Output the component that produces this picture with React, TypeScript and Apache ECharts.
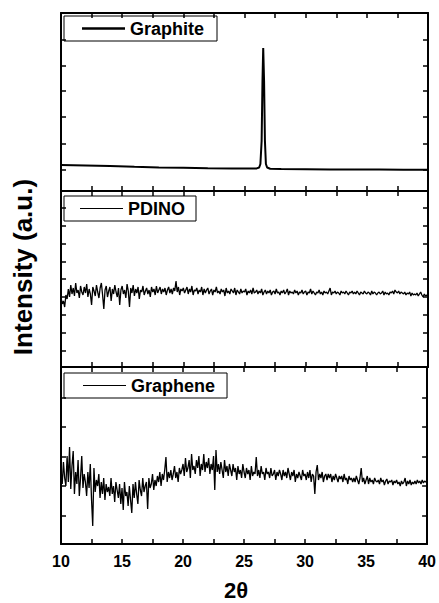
import React, { useEffect, useRef } from 'react';
import * as echarts from 'echarts';

const X_MIN = 10;
const X_MAX = 40;
const X_STEP = 0.1;

const seriesNames = ['Graphite', 'PDINO', 'Graphene'];
const xTickLabels = [10, 15, 20, 25, 30, 35, 40];

// Graphite: [2θ, intensity]
const graphiteX = [10, 12, 14, 16, 18, 20, 22, 24, 25.5, 26.0, 26.2, 26.3, 26.4, 26.47, 26.53, 26.6, 26.67, 26.75, 26.85, 27.1, 28, 30, 32, 34, 36, 38, 40];
const graphiteY = [26, 25.5, 25, 24.2, 23.6, 23.2, 22.8, 22.5, 22.4, 22.6, 23.5, 27, 50, 110, 143, 110, 50, 27, 23.5, 22.3, 22, 21.8, 21.6, 21.5, 21.4, 21.3, 21.2];

// PDINO, sampled every 0.1° from 10 to 40 (one row per degree)
const pdino = [
  70, 63, 66, 60, 72, 68, 78, 70, 82, 73,
  79, 71, 84, 74, 77, 69, 81, 75, 72, 80,
  74, 83, 70, 78, 73, 62, 80, 76, 71, 82,
  75, 69, 79, 84, 72, 58, 77, 81, 70, 76,
  80, 66, 78, 73, 82, 75, 70, 79, 62, 77,
  81, 73, 77, 69, 83, 76, 60, 79, 74, 82,
  71, 78, 74, 80, 68, 77, 75, 81, 72, 76,
  79, 73, 77, 70, 80, 75, 78, 72, 81, 74,
  77, 80, 73, 78, 75, 79, 72, 77, 80, 74,
  78, 73, 79, 76, 86, 75, 80, 72, 78, 76,
  79, 74, 77, 80, 73, 78, 75, 81, 72, 77,
  76, 79, 73, 77, 75, 80, 72, 78, 74, 77,
  79, 73, 76, 78, 72, 77, 75, 80, 74, 76,
  73, 78, 75, 77, 71, 79, 74, 76, 73, 78,
  76, 74, 79, 72, 77, 75, 73, 78, 74, 76,
  75, 78, 72, 76, 74, 77, 73, 79, 74, 75,
  77, 73, 76, 74, 78, 72, 75, 77, 73, 76,
  74, 77, 72, 75, 76, 73, 78, 74, 75, 72,
  76, 74, 77, 73, 75, 78, 72, 76, 74, 75,
  73, 77, 74, 76, 72, 75, 74, 77, 73, 75,
  76, 72, 75, 74, 78, 73, 76, 74, 72, 75,
  74, 77, 73, 75, 72, 76, 74, 75, 73, 76,
  79, 72, 75, 74, 76, 73, 75, 74, 72, 76,
  74, 75, 73, 76, 74, 72, 75, 74, 76, 73,
  75, 73, 76, 74, 72, 75, 74, 73, 76, 74,
  73, 75, 74, 72, 76, 73, 75, 74, 72, 74,
  75, 73, 74, 76, 72, 75, 73, 74, 72, 75,
  74, 76, 73, 77, 75, 74, 76, 73, 75, 74,
  73, 75, 72, 74, 73, 75, 71, 74, 72, 73,
  72, 74, 71, 73, 75, 72, 70, 73, 71, 72,
  70,
];

// Graphene, sampled every 0.1° from 10 to 40 (one row per degree)
const graphene = [
  74, 60, 82, 66, 58, 88, 62, 97, 55, 78,
  93, 50, 72, 60, 84, 48, 66, 88, 56, 70,
  62, 48, 72, 56, 80, 45, 18, 76, 52, 64,
  58, 70, 46, 62, 50, 66, 44, 60, 52, 57,
  48, 66, 50, 58, 42, 62, 54, 46, 60, 40,
  56, 34, 62, 48, 52, 38, 58, 44, 31, 60,
  46, 62, 50, 40, 64, 54, 48, 66, 52, 58,
  62, 35, 66, 56, 60, 70, 54, 64, 58, 68,
  62, 72, 58, 70, 64, 74, 87, 62, 72, 66,
  74, 64, 70, 78, 66, 72, 62, 76, 70, 74,
  80, 68, 86, 72, 76, 84, 66, 90, 74, 78,
  70, 84, 76, 88, 68, 80, 74, 90, 72, 82,
  76, 86, 70, 80, 74, 88, 54, 94, 72, 80,
  70, 82, 74, 66, 84, 72, 78, 68, 80, 74,
  68, 80, 72, 76, 64, 78, 70, 74, 66, 80,
  72, 66, 76, 70, 74, 64, 78, 68, 72, 70,
  87, 68, 74, 66, 78, 70, 72, 64, 76, 70,
  72, 66, 76, 68, 70, 74, 64, 72, 68, 74,
  70, 64, 74, 68, 72, 66, 76, 70, 64, 72,
  68, 74, 62, 70, 66, 72, 68, 64, 74, 68,
  70, 64, 72, 66, 74, 62, 70, 68, 50, 72,
  79, 64, 70, 66, 72, 62, 68, 70, 64, 70,
  66, 70, 62, 68, 64, 70, 66, 62, 68, 65,
  68, 62, 70, 64, 66, 60, 68, 64, 66, 62,
  66, 62, 68, 64, 60, 66, 76, 62, 66, 60,
  64, 68, 60, 66, 62, 64, 60, 66, 63, 62,
  64, 60, 66, 62, 64, 59, 63, 65, 60, 63,
  62, 64, 59, 63, 61, 64, 60, 62, 58, 63,
  60, 62, 66, 58, 63, 60, 64, 59, 62, 60,
  63, 60, 64, 61, 63, 60, 64, 61, 63, 62,
  62,
];

const yMax = [178, 176, 177];
const yTicks = [
  [21, 47, 74, 100, 125, 151],
  [16, 34, 52, 70, 88, 105, 123, 141, 159],
  [28, 58, 87, 117, 146],
];

const FONT = '"Liberation Sans", Arial, sans-serif';

export default function App() {
  const ref = useRef<HTMLDivElement>(null);

  useEffect(() => {
    document.body.style.margin = '0';
    if (!ref.current) return;
    const chart = echarts.init(ref.current, undefined, { renderer: 'svg' });

    const grids = [
      { left: 61, right: 11, top: 13, height: 178 },
      { left: 61, right: 11, top: 191, height: 176 },
      { left: 61, right: 11, top: 367, height: 177 },
    ];

    const axisLine = { show: true, onZero: false, lineStyle: { color: '#000', width: 2 } };
    const tickStyle = { color: '#000', width: 1.5 };

    const xAxis: any[] = [];
    const yAxis: any[] = [];
    grids.forEach((_, g) => {
      ['bottom', 'top'].forEach((pos) => {
        xAxis.push({
          type: 'value',
          gridIndex: g,
          position: pos,
          min: X_MIN,
          max: X_MAX,
          interval: 2.5,
          axisLine,
          axisTick: { show: true, inside: true, length: 5, lineStyle: tickStyle },
          axisLabel: {
            show: g === 2 && pos === 'bottom',
            formatter: (v: number) => (xTickLabels.indexOf(v) >= 0 ? String(v) : ''),
            fontFamily: FONT,
            fontWeight: 'bold',
            fontSize: 16,
            color: '#000',
            margin: 9,
          },
          splitLine: { show: false },
        });
      });
      ['left', 'right'].forEach((pos) => {
        yAxis.push({
          type: 'value',
          gridIndex: g,
          position: pos,
          min: 0,
          max: yMax[g],
          axisLine,
          axisTick: { show: true, inside: true, length: 5, lineStyle: tickStyle, customValues: yTicks[g] },
          axisLabel: { show: false },
          splitLine: { show: false },
        });
      });
    });

    const toPairs = (vals: number[]) => vals.map((v, i) => [Number((X_MIN + i * X_STEP).toFixed(2)), v]);

    const legendBase = {
      orient: 'horizontal',
      borderColor: '#000',
      borderWidth: 1,
      itemWidth: 43,
      icon: 'rect',
      selectedMode: false,
      textStyle: { fontFamily: FONT, fontWeight: 'bold', fontSize: 18, color: '#000', lineHeight: 19 },
    };

    chart.setOption({
      animation: false,
      backgroundColor: '#fff',
      grid: grids,
      xAxis,
      yAxis,
      legend: [
        { ...legendBase, data: [seriesNames[0]], left: 64, top: 16, itemHeight: 2.5, padding: [3, 13, 3, 18] },
        { ...legendBase, data: [seriesNames[1]], left: 64, top: 196, itemHeight: 1.2, padding: [3, 11, 3, 16] },
        { ...legendBase, data: [seriesNames[2]], left: 64, top: 373, itemHeight: 1.2, padding: [3, 12, 3, 19] },
      ],
      series: [
        {
          name: seriesNames[0],
          type: 'line',
          xAxisIndex: 0,
          yAxisIndex: 0,
          symbol: 'none',
          lineStyle: { color: '#000', width: 2 },
          itemStyle: { color: '#000' },
          data: graphiteX.map((x, i) => [x, graphiteY[i]]),
        },
        {
          name: seriesNames[1],
          type: 'line',
          xAxisIndex: 2,
          yAxisIndex: 2,
          symbol: 'none',
          lineStyle: { color: '#000', width: 1.3 },
          itemStyle: { color: '#000' },
          data: toPairs(pdino),
        },
        {
          name: seriesNames[2],
          type: 'line',
          xAxisIndex: 4,
          yAxisIndex: 4,
          symbol: 'none',
          lineStyle: { color: '#000', width: 1.3 },
          itemStyle: { color: '#000' },
          data: toPairs(graphene),
        },
      ],
      graphic: [
        {
          type: 'text',
          x: 23,
          y: 267,
          rotation: Math.PI / 2,
          style: {
            text: 'Intensity (a.u.)',
            fontFamily: FONT,
            fontWeight: 'bold',
            fontSize: 26,
            fill: '#000',
            textAlign: 'center',
            textVerticalAlign: 'middle',
          },
        },
        {
          type: 'text',
          x: 236,
          y: 590,
          style: {
            text: '2θ',
            fontFamily: FONT,
            fontWeight: 'bold',
            fontSize: 22,
            fill: '#000',
            textAlign: 'center',
            textVerticalAlign: 'middle',
          },
        },
      ],
    });

    return () => chart.dispose();
  }, []);

  return <div ref={ref} style={{ width: 439, height: 603 }} />;
}
